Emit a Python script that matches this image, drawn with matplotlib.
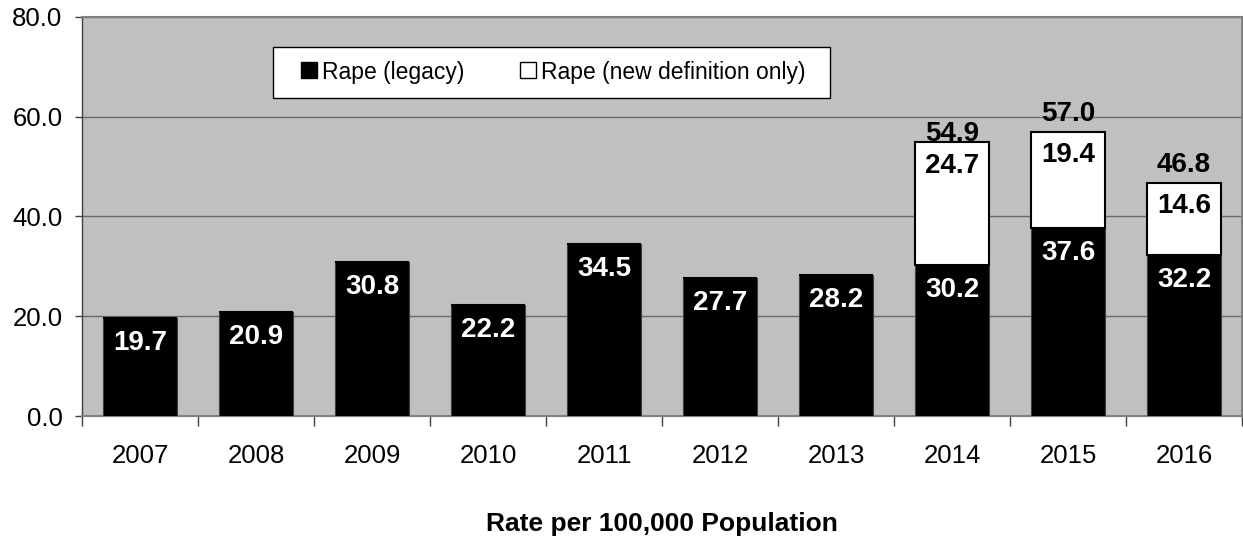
import matplotlib
matplotlib.use('Agg')
import matplotlib.pyplot as plt
from matplotlib.lines import Line2D
from matplotlib.patches import Rectangle
import numpy as np

plt.rcParams['font.family'] = ['Liberation Sans', 'DejaVu Sans']

years = ['2007', '2008', '2009', '2010', '2011', '2012', '2013', '2014', '2015', '2016']
legacy = [19.7, 20.9, 30.8, 22.2, 34.5, 27.7, 28.2, 30.2, 37.6, 32.2]
new_def = [0, 0, 0, 0, 0, 0, 0, 24.7, 19.4, 14.6]

x = np.arange(len(years))
totals = [a + b for a, b in zip(legacy, new_def)]

W, H = 1243, 542
fig = plt.figure(figsize=(W / 100, H / 100), dpi=100)
# zone de tracé en pixels : x 82..1242, y 17..416
ax = fig.add_axes([82 / W, 1 - 416 / H, 1160 / W, 399 / H])
ax.set_facecolor('#C0C0C0')

ax.bar(x, legacy, width=0.64, color='black', edgecolor='#404040', linewidth=0.8, zorder=3)
ax.bar(x, new_def, width=0.64, bottom=legacy, color='white', edgecolor='black', linewidth=1.5, zorder=3)

# etiquettes dans les barres
for i in range(len(years)):
    ax.annotate(f'{legacy[i]:.1f}', (x[i], legacy[i]), xytext=(0, -18), textcoords='offset points',
                ha='center', va='center', color='white', fontsize=20, fontweight='bold', zorder=4)
    if new_def[i] > 0:
        ax.annotate(f'{new_def[i]:.1f}', (x[i], totals[i]), xytext=(0, -17), textcoords='offset points',
                    ha='center', va='center', color='black', fontsize=20, fontweight='bold', zorder=4)
        dy = 6 if years[i] == '2014' else 13
        ax.annotate(f'{totals[i]:.1f}', (x[i], totals[i]), xytext=(0, dy), textcoords='offset points',
                    ha='center', va='center', color='black', fontsize=20, fontweight='bold', zorder=4)

ax.set_xlim(-0.5, len(years) - 0.5)
ax.set_ylim(0, 80)
ax.set_yticks([0, 20, 40, 60, 80])
ax.set_yticklabels([f'{v:.1f}' for v in [0, 20, 40, 60, 80]], fontsize=18.5)
ax.yaxis.grid(True, color='#6a6a6a', linewidth=1, zorder=0)
ax.set_axisbelow(True)
ax.tick_params(axis='y', length=5, width=1, color='#404040', pad=9)

ax.set_xticks(x)
ax.set_xticklabels(years, fontsize=18.5)
ax.set_xticks(np.arange(-0.5, len(years)), minor=True)
ax.tick_params(axis='x', which='major', length=0, pad=20)
ax.tick_params(axis='x', which='minor', length=7, width=1, color='#404040')

for s in ['top', 'right', 'bottom']:
    ax.spines[s].set_color('#808080')
    ax.spines[s].set_linewidth(1.5)
ax.spines['right'].set_linewidth(2)
ax.spines['left'].set_color('#404040')
ax.spines['left'].set_linewidth(1)

ax.set_xlabel('Rate per 100,000 Population', fontsize=19, fontweight='bold', labelpad=32)

# cadre de la légende
def px_to_ax(px, py):
    return (px - 82) / 1160, (416 - py) / 399

bx0, by0 = px_to_ax(273, 98)
bx1, by1 = px_to_ax(830, 47)
ax.add_patch(Rectangle((bx0, by0), bx1 - bx0, by1 - by0, transform=ax.transAxes,
                       facecolor='white', edgecolor='black', linewidth=1, zorder=5))

handles = [Line2D([], [], marker='s', linestyle='none', markersize=11, markerfacecolor='black', markeredgecolor='black'),
           Line2D([], [], marker='s', linestyle='none', markersize=11, markerfacecolor='white', markeredgecolor='black', markeredgewidth=1)]
lx, ly = px_to_ax(300, 72)
leg = ax.legend(handles, ['Rape (legacy)', 'Rape (new definition only)'], ncol=2, fontsize=16.5,
                loc='center left', bbox_to_anchor=(lx, ly), frameon=False, borderpad=0,
                handlelength=0.8, handletextpad=0.15, columnspacing=2.4, borderaxespad=0)
leg.set_zorder(6)

plt.savefig('out.png', dpi=100)
